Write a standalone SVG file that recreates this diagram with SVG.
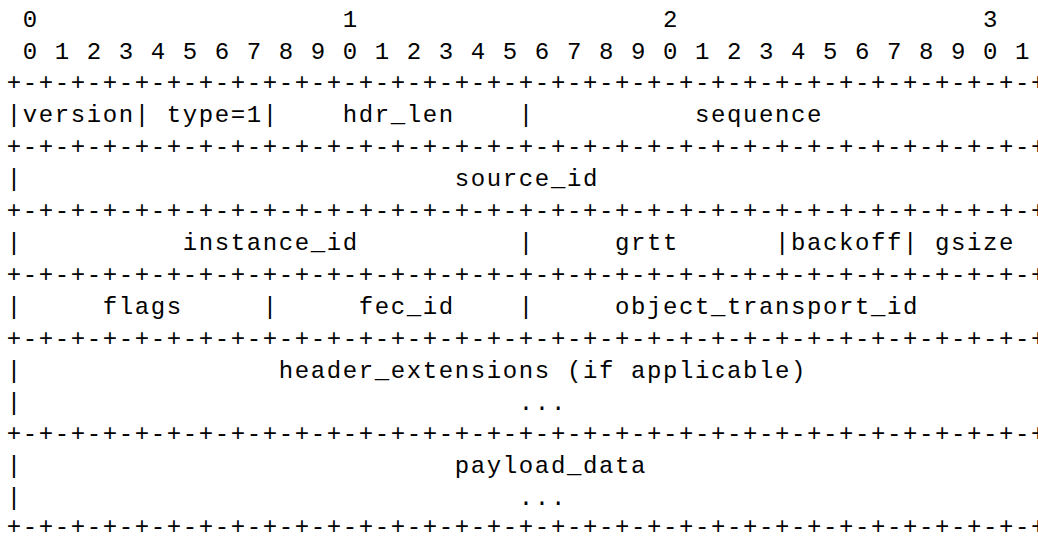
<svg xmlns="http://www.w3.org/2000/svg" width="1038" height="538" viewBox="0 0 1038 538" xml:space="preserve">
  <style>
    /* 16px character cells: 0.6em advance plus letter spacing */
    .t { font-family: "Liberation Mono", "Courier New", monospace; font-size: 24px; letter-spacing: 1.6px; fill: #000; white-space: pre; }
  </style>
  <rect width="1038" height="538" fill="#fff"/>
  <!-- bit ruler -->
  <g id="ruler">
    <text class="t" x="6.8" y="27"> 0                   1                   2                   3</text>
    <text class="t" x="6.8" y="59"> 0 1 2 3 4 5 6 7 8 9 0 1 2 3 4 5 6 7 8 9 0 1 2 3 4 5 6 7 8 9 0 1</text>
  </g>
  <!-- word separators -->
  <g id="separators">
    <text class="t" x="6.8" y="90">+-+-+-+-+-+-+-+-+-+-+-+-+-+-+-+-+-+-+-+-+-+-+-+-+-+-+-+-+-+-+-+-+</text>
    <text class="t" x="6.8" y="154">+-+-+-+-+-+-+-+-+-+-+-+-+-+-+-+-+-+-+-+-+-+-+-+-+-+-+-+-+-+-+-+-+</text>
    <text class="t" x="6.8" y="218">+-+-+-+-+-+-+-+-+-+-+-+-+-+-+-+-+-+-+-+-+-+-+-+-+-+-+-+-+-+-+-+-+</text>
    <text class="t" x="6.8" y="282">+-+-+-+-+-+-+-+-+-+-+-+-+-+-+-+-+-+-+-+-+-+-+-+-+-+-+-+-+-+-+-+-+</text>
    <text class="t" x="6.8" y="346">+-+-+-+-+-+-+-+-+-+-+-+-+-+-+-+-+-+-+-+-+-+-+-+-+-+-+-+-+-+-+-+-+</text>
    <text class="t" x="6.8" y="441">+-+-+-+-+-+-+-+-+-+-+-+-+-+-+-+-+-+-+-+-+-+-+-+-+-+-+-+-+-+-+-+-+</text>
    <text class="t" x="6.8" y="534">+-+-+-+-+-+-+-+-+-+-+-+-+-+-+-+-+-+-+-+-+-+-+-+-+-+-+-+-+-+-+-+-+</text>
  </g>
  <!-- header words -->
  <g id="word-version">
    <text class="t" x="6.8" y="122">|version| type=1|    hdr_len    |          sequence</text>
  </g>
  <g id="word-source">
    <text class="t" x="6.8" y="186">|                           source_id</text>
  </g>
  <g id="word-instance">
    <text class="t" x="6.8" y="250">|          instance_id          |     grtt      |backoff| gsize</text>
  </g>
  <g id="word-flags">
    <text class="t" x="6.8" y="314">|     flags     |     fec_id    |     object_transport_id</text>
  </g>
  <g id="header-extensions">
    <text class="t" x="6.8" y="378">|                header_extensions (if applicable)</text>
    <text class="t" x="6.8" y="410">|                               ...</text>
  </g>
  <g id="payload">
    <text class="t" x="6.8" y="473">|                           payload_data</text>
    <text class="t" x="6.8" y="505">|                               ...</text>
  </g>
</svg>
